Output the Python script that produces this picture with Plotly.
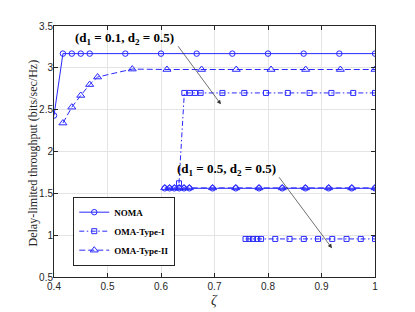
import plotly.graph_objects as go

# ---- data ----
zeta_noma_a = [0.4, 0.4167, 0.4333, 0.45, 0.4667, 0.5333, 0.6, 0.6667, 0.7333, 0.8, 0.8667, 0.9333, 1.0]
thr_noma_a = [2.43, 3.17, 3.17, 3.17, 3.17, 3.17, 3.17, 3.17, 3.17, 3.17, 3.17, 3.17, 3.17]

zeta_oma1_a = [0.6336, 0.6436, 0.6536, 0.6636, 0.6741, 0.7148, 0.7556, 0.7963, 0.8370, 0.8778, 0.9185, 0.9593, 1.0]
thr_oma1_a = [1.62, 2.70, 2.70, 2.70, 2.70, 2.70, 2.70, 2.70, 2.70, 2.70, 2.70, 2.70, 2.70]

zeta_oma2_a = [0.4167, 0.4333, 0.45, 0.4667, 0.4815, 0.5463, 0.6111, 0.6759, 0.7407, 0.8056, 0.8704, 0.9352, 1.0]
thr_oma2_a = [2.34, 2.53, 2.67, 2.80, 2.89, 2.985, 2.98, 2.98, 2.98, 2.98, 2.98, 2.98, 2.98]

zeta_noma_b = [0.607, 0.616, 0.625, 0.634, 0.643, 0.653, 0.6964, 0.7398, 0.7832, 0.8266, 0.8700, 0.9134, 0.9566, 1.0]
thr_noma_b = [1.56] * 14

zeta_oma1_b = [0.758, 0.765, 0.772, 0.780, 0.787, 0.8136, 0.8403, 0.8669, 0.8935, 0.9201, 0.9468, 0.9734, 1.0]
thr_oma1_b = [0.955] * 13

zeta_oma2_b = [0.607, 0.616, 0.625, 0.634, 0.643, 0.653, 0.6964, 0.7398, 0.7832, 0.8266, 0.8700, 0.9134, 0.9566, 1.0]
thr_oma2_b = [1.565] * 14

x_ticks = [0.4, 0.5, 0.6, 0.7, 0.8, 0.9, 1.0]
x_labels = ["0.4", "0.5", "0.6", "0.7", "0.8", "0.9", "1"]
y_ticks = [0.5, 1, 1.5, 2, 2.5, 3, 3.5]
y_labels = ["0.5", "1", "1.5", "2", "2.5", "3", "3.5"]

BLUE = "rgb(40,40,255)"
SERIF = "Liberation Serif"
SANS = "Liberation Sans"
DARK = "rgb(38,38,38)"

solid = dict(color=BLUE, width=1)
dashed = dict(color=BLUE, width=1, dash="6px,3px")
dashdot = dict(color=BLUE, width=1, dash="5px,2.5px,1.5px,2.5px")

def mk(symbol, size):
    return dict(symbol=symbol, size=size, color=BLUE, line=dict(color=BLUE, width=1))

fig = go.Figure()
fig.add_trace(go.Scatter(x=zeta_noma_a, y=thr_noma_a, mode="lines+markers", name="<b>NOMA</b>",
                         line=solid, marker=mk("circle-open", 5.5), legendgroup="n"))
fig.add_trace(go.Scatter(x=zeta_oma1_a, y=thr_oma1_a, mode="lines+markers", name="<b>OMA-Type-I</b>",
                         line=dashdot, marker=mk("square-open", 5), legendgroup="o1"))
fig.add_trace(go.Scatter(x=zeta_oma2_a, y=thr_oma2_a, mode="lines+markers", name="<b>OMA-Type-II</b>",
                         line=dashed, marker=mk("triangle-up-open", 7), legendgroup="o2"))
fig.add_trace(go.Scatter(x=zeta_noma_b, y=thr_noma_b, mode="lines+markers", showlegend=False,
                         line=solid, marker=mk("circle-open", 5.5), legendgroup="n"))
fig.add_trace(go.Scatter(x=zeta_oma1_b, y=thr_oma1_b, mode="lines+markers", showlegend=False,
                         line=dashdot, marker=mk("square-open", 5), legendgroup="o1"))
fig.add_trace(go.Scatter(x=zeta_oma2_b, y=thr_oma2_b, mode="lines+markers", showlegend=False,
                         line=dashed, marker=mk("triangle-up-open", 7), legendgroup="o2"))

axis_common = dict(
    showgrid=True, gridcolor="rgb(228,228,228)", gridwidth=1,
    showline=True, linecolor=DARK, linewidth=1, mirror="ticks",
    ticks="inside", ticklen=4, tickcolor=DARK, tickwidth=1,
    zeroline=False, tickfont=dict(family=SANS, size=10, color=DARK),
)

fig.update_xaxes(range=[0.4, 1.0], tickvals=x_ticks, ticktext=x_labels, **axis_common)
fig.update_yaxes(range=[0.5, 3.5], tickvals=y_ticks, ticktext=y_labels, ticklabelstandoff=-2, **axis_common)

# axis titles
fig.add_annotation(x=-0.064, y=0.494, xref="paper", yref="paper", textangle=-90,
                   xanchor="center", yanchor="middle",
                   text="Delay-limited throughput (bits/sec/Hz)", showarrow=False,
                   font=dict(family=SERIF, size=12, color=DARK))
fig.add_annotation(x=0.5, y=-0.095, xref="paper", yref="paper",
                   xanchor="center", yanchor="middle",
                   text="<i>ζ</i>", showarrow=False,
                   font=dict(family=SERIF, size=14, color=DARK))

ann_font = dict(family=SERIF, size=13, color="black")
fig.add_annotation(x=0.5327, y=3.35, xref="x", yref="y",
                   text="<b>(d<sub>1</sub> = 0.1, d<sub>2</sub> = 0.5)</b>",
                   showarrow=False, font=ann_font)
fig.add_annotation(x=0.712, y=2.564, ax=0.630, ay=3.276, xref="x", yref="y", axref="x", ayref="y",
                   text="", showarrow=True, arrowhead=2, arrowsize=1.2, arrowwidth=0.7, arrowcolor="rgb(50,50,50)",
                   standoff=0, startstandoff=0)
fig.add_annotation(x=0.7215, y=1.78, xref="x", yref="y",
                   text="<b>(d<sub>1</sub> = 0.5, d<sub>2</sub> = 0.5)</b>",
                   showarrow=False, font=ann_font)
fig.add_annotation(x=0.9196, y=0.844, ax=0.8187, ay=1.71, xref="x", yref="y", axref="x", ayref="y",
                   text="", showarrow=True, arrowhead=2, arrowsize=1.2, arrowwidth=0.7, arrowcolor="rgb(50,50,50)",
                   standoff=0, startstandoff=0)

fig.update_layout(
    width=415, height=312,
    margin=dict(l=46, r=48, t=16, b=43),
    paper_bgcolor="white", plot_bgcolor="white",
    showlegend=True,
    legend=dict(x=0.06, y=0.32, xanchor="left", yanchor="top",
                bgcolor="white", bordercolor=DARK, borderwidth=1,
                font=dict(family=SERIF, size=9, color="black"),
                tracegroupgap=0, itemwidth=30),
)

fig.write_html("out.html")
